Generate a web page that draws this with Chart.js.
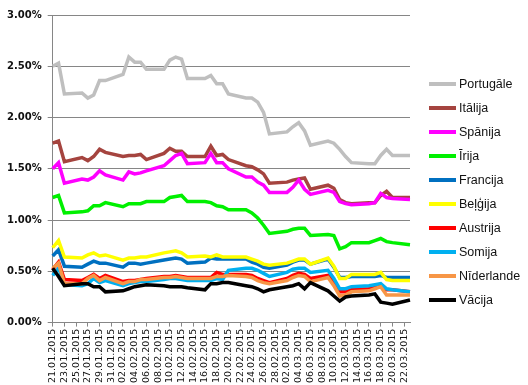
<!DOCTYPE html>
<html>
<head>
<meta charset="utf-8">
<script src="https://cdn.jsdelivr.net/npm/chart.js@4.4.1/dist/chart.umd.min.js"></script>
<style>
  html, body { margin: 0; padding: 0; background: #fff; }
  #wrap { position: relative; width: 528px; height: 385px; }
  #legend { position: absolute; left: 429px; top: 72px; margin: 0; padding: 0; list-style: none;
            font-family: 'Liberation Sans', sans-serif; font-size: 12.5px; color: #111; }
  #legend li { height: 24px; display: flex; align-items: center; white-space: nowrap; }
  #legend .swatch { display: inline-block; width: 27px; height: 4px; margin-right: 3px; }
</style>
</head>
<body>
<div id="wrap">
  <canvas id="chart"></canvas>
  <ul id="legend"></ul>
</div>
<script>
// kalendāra dienas uz ass (brīvdienās nav datu)
const days = [
  '21.01.2015','22.01.2015','23.01.2015','24.01.2015','25.01.2015','26.01.2015','27.01.2015','28.01.2015','29.01.2015','30.01.2015',
  '31.01.2015','01.02.2015','02.02.2015','03.02.2015','04.02.2015','05.02.2015','06.02.2015','07.02.2015','08.02.2015','09.02.2015',
  '10.02.2015','11.02.2015','12.02.2015','13.02.2015','14.02.2015','15.02.2015','16.02.2015','17.02.2015','18.02.2015','19.02.2015',
  '20.02.2015','21.02.2015','22.02.2015','23.02.2015','24.02.2015','25.02.2015','26.02.2015','27.02.2015','28.02.2015','01.03.2015',
  '02.03.2015','03.03.2015','04.03.2015','05.03.2015','06.03.2015','07.03.2015','08.03.2015','09.03.2015','10.03.2015','11.03.2015',
  '12.03.2015','13.03.2015','14.03.2015','15.03.2015','16.03.2015','17.03.2015','18.03.2015','19.03.2015','20.03.2015','21.03.2015',
  '22.03.2015','23.03.2015'
];

const yTicks = [0, 0.5, 1, 1.5, 2, 2.5, 3];

const n = null;
const portugale = [2.50,2.53,2.23,n,n, 2.24,2.19,2.22,2.36,2.36,n,n, 2.42,2.59,2.54,2.54,2.47,n,n, 2.47,2.56,2.59,2.57,2.38,n,n, 2.38,2.41,2.33,2.33,2.23,n,n, 2.19,2.19,2.15,2.05,1.84,n,n, 1.86,1.91,1.95,1.87,1.73,n,n, 1.77,1.75,1.69,1.62,1.56,n,n, 1.55,1.55,1.63,1.69,1.63,n,n, 1.63];
const italija   = [1.75,1.77,1.57,n,n, 1.61,1.58,1.62,1.69,1.66,n,n, 1.62,1.63,1.63,1.64,1.59,n,n, 1.65,1.70,1.67,1.67,1.62,n,n, 1.62,1.72,1.63,1.64,1.59,n,n, 1.53,1.52,1.49,1.45,1.36,n,n, 1.37,1.39,1.40,1.41,1.30,n,n, 1.34,1.31,1.20,1.17,1.16,n,n, 1.17,1.17,1.24,1.28,1.22,n,n, 1.22];
const spanija   = [1.50,1.56,1.36,n,n, 1.40,1.39,1.42,1.48,1.44,n,n, 1.39,1.47,1.45,1.46,1.48,n,n, 1.53,1.58,1.63,1.65,1.55,n,n, 1.56,1.65,1.56,1.56,1.50,n,n, 1.42,1.42,1.37,1.34,1.27,n,n, 1.27,1.32,1.39,1.30,1.25,n,n, 1.29,1.27,1.18,1.16,1.15,n,n, 1.16,1.17,1.26,1.22,1.21,n,n, 1.20];
const irija     = [1.22,1.24,1.07,n,n, 1.08,1.09,1.14,1.14,1.17,n,n, 1.13,1.16,1.16,1.16,1.18,n,n, 1.18,1.22,1.23,1.24,1.18,n,n, 1.18,1.17,1.14,1.13,1.10,n,n, 1.10,1.07,1.02,0.95,0.87,n,n, 0.89,0.91,0.92,0.92,0.85,n,n, 0.86,0.85,0.72,0.74,0.78,n,n, 0.78,0.80,0.82,0.79,0.78,n,n, 0.76];
const francija  = [0.65,0.71,0.55,n,n, 0.54,0.57,0.60,0.58,0.58,n,n, 0.54,0.58,0.58,0.57,0.58,n,n, 0.61,0.62,0.63,0.62,0.58,n,n, 0.59,0.63,0.62,0.62,0.62,n,n, 0.62,0.59,0.57,0.54,0.53,n,n, 0.56,0.59,0.61,0.61,0.57,n,n, 0.62,0.54,0.44,0.44,0.45,n,n, 0.45,0.45,0.46,0.44,0.44,n,n, 0.44];
const belgija   = [0.73,0.80,0.64,n,n, 0.63,0.66,0.68,0.65,0.66,n,n, 0.61,0.63,0.63,0.64,0.64,n,n, 0.68,0.69,0.70,0.68,0.64,n,n, 0.65,0.64,0.66,0.64,0.64,n,n, 0.64,0.62,0.60,0.57,0.56,n,n, 0.58,0.60,0.62,0.62,0.57,n,n, 0.63,0.55,0.43,0.43,0.47,n,n, 0.47,0.47,0.49,0.42,0.41,n,n, 0.41];
const austrija  = [0.52,0.59,0.42,n,n, 0.41,0.44,0.47,0.43,0.46,n,n, 0.40,0.41,0.41,0.42,0.43,n,n, 0.45,0.45,0.46,0.45,0.44,n,n, 0.44,0.44,0.49,0.47,0.47,n,n, 0.47,0.46,0.43,0.41,0.39,n,n, 0.43,0.46,0.48,0.47,0.43,n,n, 0.46,0.40,0.30,0.30,0.32,n,n, 0.33,0.35,0.36,0.32,0.32,n,n, 0.30];
const somija    = [0.46,0.53,0.37,n,n, 0.36,0.38,0.43,0.39,0.41,n,n, 0.36,0.38,0.39,0.40,0.40,n,n, 0.42,0.43,0.43,0.42,0.41,n,n, 0.41,0.41,0.43,0.42,0.51,n,n, 0.53,0.53,0.51,0.48,0.45,n,n, 0.49,0.52,0.53,0.53,0.49,n,n, 0.51,0.43,0.33,0.33,0.35,n,n, 0.36,0.37,0.38,0.33,0.32,n,n, 0.30];
const niderlande= [0.53,0.58,0.38,n,n, 0.38,0.43,0.46,0.41,0.44,n,n, 0.38,0.40,0.40,0.42,0.42,n,n, 0.44,0.44,0.45,0.44,0.43,n,n, 0.43,0.43,0.45,0.45,0.46,n,n, 0.45,0.44,0.41,0.39,0.38,n,n, 0.41,0.44,0.46,0.45,0.40,n,n, 0.44,0.36,0.26,0.27,0.30,n,n, 0.31,0.33,0.35,0.27,0.27,n,n, 0.27];
const vacija    = [0.53,0.45,0.36,n,n, 0.38,0.38,0.35,0.35,0.30,n,n, 0.31,0.33,0.35,0.36,0.37,n,n, 0.36,0.35,0.35,0.35,0.34,n,n, 0.32,0.38,0.38,0.39,0.39,n,n, 0.36,0.35,0.33,0.30,0.32,n,n, 0.35,0.36,0.38,0.33,0.39,n,n, 0.31,0.26,0.21,0.25,0.26,n,n, 0.27,0.28,0.20,0.19,0.18,n,n, 0.22];

const seriesNames  = ['Portugāle','Itālija','Spānija','Īrija','Francija','Beļģija','Austrija','Somija','Nīderlande','Vācija'];
const seriesData   = [portugale, italija, spanija, irija, francija, belgija, austrija, somija, niderlande, vacija];
const seriesColors = ['#bfbfbf','#a5443f','#ff00ff','#00f000','#0070c0','#ffff00','#ff0000','#00b0f0','#f79646','#000000'];

const FONT = 'DejaVu Sans';
const GRID = '#868686';

const datasets = seriesNames.map((name, i) => ({
  label: name,
  data: seriesData[i],
  borderColor: seriesColors[i],
  backgroundColor: seriesColors[i],
  borderWidth: 3.5,
  pointRadius: 0,
  tension: 0,
  spanGaps: true,
  order: seriesNames.length - i   // Vācija virspusē
}));

// leģenda kā HTML saraksts, veidota no datu kopām
const htmlLegend = {
  id: 'htmlLegend',
  afterUpdate(chart) {
    const ul = document.getElementById('legend');
    ul.innerHTML = '';
    chart.data.datasets.forEach(ds => {
      const li = document.createElement('li');
      const sw = document.createElement('span');
      sw.className = 'swatch';
      sw.style.background = ds.borderColor;
      li.appendChild(sw);
      li.appendChild(document.createTextNode(ds.label));
      ul.appendChild(li);
    });
  }
};

new Chart(document.getElementById('chart'), {
  type: 'line',
  data: { labels: days, datasets },
  plugins: [htmlLegend],
  options: {
    responsive: true,
    maintainAspectRatio: false,
    animation: false,
    layout: { padding: { left: 1, right: 118, top: 15, bottom: 0 } },
    plugins: {
      tooltip: { enabled: false },
      legend: { display: false }
    },
    scales: {
      x: {
        offset: false,
        border: { color: GRID },
        grid: {
          drawOnChartArea: false,
          tickLength: 4,
          tickColor: c => (c.index % 2 ? 'rgba(0,0,0,0)' : GRID)
        },
        ticks: {
          autoSkip: false,
          minRotation: 90,
          maxRotation: 90,
          padding: 2,
          color: '#111',
          font: { family: FONT, size: 9.5 },
          callback: (v, i) => (i % 2 ? '' : days[i])
        }
      },
      y: {
        min: 0,
        max: 3,
        border: { color: GRID },
        grid: { color: GRID, tickLength: 5 },
        afterBuildTicks: axis => { axis.ticks = yTicks.map(v => ({ value: v })); },
        ticks: {
          padding: 6,
          color: '#111',
          font: { family: FONT, size: 10, weight: 'bold' },
          callback: v => v.toFixed(2) + '%'
        }
      }
    }
  }
});
</script>
</body>
</html>
